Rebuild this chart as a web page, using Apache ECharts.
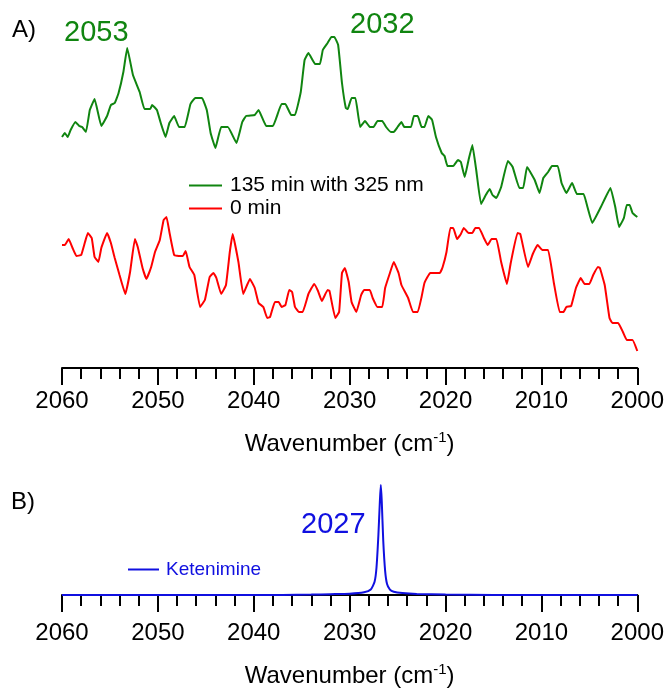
<!DOCTYPE html>
<html>
<head>
<meta charset="utf-8">
<script src="https://cdn.jsdelivr.net/npm/echarts@6/dist/echarts.min.js"></script>
<style>
  html, body { margin: 0; padding: 0; background: #fff; }
  #chart { width: 667px; height: 694px; }
</style>
</head>
<body>
<div id="chart"></div>
<script>
// A) 135 min with 325 nm (green), wavenumber / absorbance (arb.)
var greenWn = [2060.0, 2059.7, 2059.4, 2059.1, 2058.6, 2058.2, 2057.9, 2057.5, 2057.1, 2056.6,
  2055.9, 2055.3, 2054.9, 2054.5, 2054.1, 2053.6, 2053.2, 2052.6, 2051.9, 2051.4,
  2050.8, 2050.6, 2050.1, 2049.7, 2049.2, 2048.8, 2048.3, 2047.8, 2047.2, 2046.6,
  2046.1, 2045.4, 2044.9, 2044.5, 2044.0, 2043.4, 2042.7, 2041.8, 2041.2, 2040.8,
  2039.9, 2039.5, 2038.7, 2038.0, 2037.1, 2036.7, 2036.1, 2035.7, 2035.1, 2034.7,
  2034.3, 2033.6, 2033.1, 2032.8, 2032.3, 2031.9, 2031.6, 2031.2, 2030.8, 2030.4,
  2030.2, 2029.8, 2029.4, 2028.9, 2028.4, 2027.9, 2027.5, 2027.1, 2026.6, 2026.2,
  2025.7, 2025.4, 2025.0, 2024.6, 2024.3, 2023.6, 2023.3, 2022.9, 2022.5, 2022.2,
  2021.8, 2021.4, 2021.0, 2020.4, 2020.1, 2019.8, 2019.2, 2018.7, 2018.4, 2018.0,
  2017.6, 2017.2, 2016.8, 2016.3, 2015.8, 2015.4, 2015.1, 2014.7, 2014.2, 2013.5,
  2013.0, 2012.3, 2011.9, 2011.5, 2010.7, 2010.2, 2009.8, 2009.3, 2008.9, 2008.3,
  2007.9, 2007.4, 2006.8, 2006.3, 2005.6, 2005.2, 2004.7, 2003.8, 2002.8, 2002.3,
  2001.9, 2001.4, 2001.1, 2000.8, 2000.5, 2000.0];
var greenAbs = [0.231, 0.235, 0.231, 0.238, 0.246, 0.242, 0.241, 0.236, 0.258, 0.269,
  0.242, 0.252, 0.263, 0.265, 0.275, 0.296, 0.320, 0.293, 0.276, 0.259,
  0.259, 0.263, 0.258, 0.245, 0.231, 0.245, 0.252, 0.241, 0.241, 0.264,
  0.270, 0.270, 0.258, 0.235, 0.220, 0.241, 0.241, 0.225, 0.246, 0.252,
  0.253, 0.258, 0.242, 0.242, 0.264, 0.264, 0.253, 0.253, 0.276, 0.308,
  0.315, 0.304, 0.304, 0.318, 0.325, 0.331, 0.331, 0.323, 0.285, 0.260,
  0.259, 0.270, 0.270, 0.241, 0.247, 0.241, 0.241, 0.247, 0.247, 0.241,
  0.236, 0.236, 0.241, 0.246, 0.241, 0.241, 0.252, 0.252, 0.241, 0.241,
  0.252, 0.248, 0.231, 0.215, 0.212, 0.202, 0.202, 0.208, 0.206, 0.191,
  0.208, 0.223, 0.198, 0.164, 0.173, 0.179, 0.173, 0.170, 0.181, 0.207,
  0.201, 0.180, 0.180, 0.201, 0.188, 0.175, 0.190, 0.196, 0.202, 0.202,
  0.185, 0.175, 0.185, 0.174, 0.174, 0.161, 0.145, 0.161, 0.180, 0.161,
  0.141, 0.150, 0.163, 0.163, 0.155, 0.151];

// A) 0 min (red)
var redWn = [2060.0, 2059.7, 2059.3, 2058.9, 2058.5, 2058.0, 2057.6, 2057.3, 2056.9, 2056.6,
  2056.2, 2055.9, 2055.3, 2054.9, 2054.5, 2054.0, 2053.4, 2052.9, 2052.4, 2052.1,
  2051.6, 2051.2, 2050.7, 2050.3, 2049.8, 2049.4, 2049.1, 2048.8, 2048.3, 2047.7,
  2047.4, 2047.1, 2046.7, 2046.2, 2045.6, 2045.1, 2044.6, 2044.2, 2043.9, 2043.4,
  2042.9, 2042.5, 2042.2, 2041.6, 2041.1, 2040.4, 2039.9, 2039.5, 2039.0, 2038.6,
  2038.3, 2037.8, 2037.4, 2037.1, 2036.7, 2036.3, 2036.0, 2035.7, 2035.3, 2034.9,
  2034.3, 2033.7, 2033.3, 2032.9, 2032.3, 2032.1, 2031.5, 2031.1, 2030.8, 2030.5,
  2030.1, 2029.8, 2029.3, 2028.8, 2028.5, 2027.9, 2027.6, 2027.1, 2026.6, 2026.3,
  2025.8, 2025.4, 2024.9, 2024.6, 2023.9, 2023.4, 2022.9, 2022.5, 2022.2, 2021.6,
  2020.6, 2020.3, 2019.9, 2019.5, 2019.2, 2018.8, 2018.4, 2018.1, 2017.6, 2017.2,
  2016.9, 2016.5, 2016.0, 2015.6, 2015.2, 2014.7, 2014.2, 2013.6, 2013.2, 2012.5,
  2012.2, 2011.4, 2010.9, 2010.4, 2009.9, 2009.3, 2008.7, 2008.1, 2007.7, 2007.4,
  2006.9, 2006.4, 2005.9, 2005.5, 2005.0, 2004.6, 2004.1, 2003.9, 2003.4, 2002.9,
  2002.6, 2002.0, 2001.5, 2001.1, 2000.5, 2000.0];
var redAbs = [0.123, 0.123, 0.129, 0.120, 0.112, 0.113, 0.126, 0.135, 0.130, 0.111,
  0.106, 0.120, 0.135, 0.125, 0.110, 0.093, 0.074, 0.096, 0.129, 0.121,
  0.100, 0.089, 0.101, 0.116, 0.128, 0.148, 0.151, 0.136, 0.113, 0.112,
  0.112, 0.117, 0.101, 0.093, 0.061, 0.068, 0.091, 0.095, 0.090, 0.074,
  0.083, 0.116, 0.134, 0.106, 0.074, 0.089, 0.080, 0.065, 0.061, 0.050,
  0.051, 0.066, 0.066, 0.061, 0.063, 0.078, 0.076, 0.061, 0.056, 0.056,
  0.074, 0.084, 0.077, 0.067, 0.078, 0.077, 0.050, 0.056, 0.095, 0.100,
  0.086, 0.066, 0.056, 0.073, 0.078, 0.078, 0.070, 0.061, 0.061, 0.080,
  0.095, 0.106, 0.095, 0.083, 0.070, 0.056, 0.056, 0.071, 0.085, 0.095,
  0.095, 0.101, 0.116, 0.140, 0.140, 0.129, 0.134, 0.140, 0.135, 0.135,
  0.140, 0.140, 0.130, 0.123, 0.129, 0.129, 0.106, 0.084, 0.105, 0.135,
  0.134, 0.101, 0.114, 0.123, 0.118, 0.118, 0.085, 0.056, 0.056, 0.061,
  0.062, 0.080, 0.090, 0.084, 0.084, 0.093, 0.101, 0.100, 0.083, 0.050,
  0.045, 0.045, 0.036, 0.028, 0.028, 0.017];

// B) calculated ketenimine band (blue)
var blueWn = [2060, 2050, 2040, 2034, 2032, 2030, 2028.5, 2027.8, 2027.4, 2027.2, 2027.0,
  2026.85, 2026.75, 2026.65, 2026.5, 2026.3, 2026.1, 2025.8, 2025.4, 2024.5, 2023, 2020, 2010, 2000];
var blueAbs = [0, 0, 0, 0.004, 0.008, 0.012, 0.025, 0.05, 0.12, 0.25, 0.55,
  0.85, 1.0, 0.85, 0.5, 0.22, 0.1, 0.05, 0.03, 0.018, 0.01, 0.004, 0, 0];

var xTicks = [2060, 2050, 2040, 2030, 2020, 2010, 2000];

function pairs(xs, ys) {
  var out = [];
  for (var i = 0; i < xs.length; i++) out.push([xs[i], ys[i]]);
  return out;
}

var FONT = "'Liberation Sans', Arial, Helvetica, sans-serif";
var GREEN = '#108510';
var RED = '#ff0000';
var BLUE = '#1010e0';

function xAxisFor(idx) {
  return {
    gridIndex: idx,
    type: 'value',
    min: xTicks[xTicks.length - 1],
    max: xTicks[0],
    interval: 10,
    inverse: true,
    axisLine: { show: true, lineStyle: { color: '#000', width: 2 } },
    axisTick: { show: true, inside: false, length: 17, lineStyle: { color: '#000', width: 2 } },
    minorTick: { show: true, splitNumber: 5, length: 11, lineStyle: { color: '#000', width: 2 } },
    splitLine: { show: false },
    axisLabel: {
      margin: 21, color: '#000', fontSize: 24, fontFamily: FONT,
      formatter: function (v) { return String(v); }
    },
    name: '{a|Wavenumber (cm}{s|-1}{a|)}',
    nameLocation: 'middle',
    nameGap: 62,
    nameTextStyle: {
      rich: {
        a: { fontSize: 24, fontFamily: FONT, color: '#000' },
        s: { fontSize: 15, fontFamily: FONT, color: '#000', verticalAlign: 'top', padding: [0, 0, 14, 0] }
      }
    }
  };
}

var myChart = echarts.init(document.getElementById('chart'));
var option = {
  backgroundColor: '#fff',
  animation: false,
  grid: [
    { left: 62, right: 29, top: 30, height: 338 },
    { left: 62, right: 29, top: 485, height: 115 }
  ],
  xAxis: [xAxisFor(0), xAxisFor(1)],
  yAxis: [
    { gridIndex: 0, type: 'value', min: 0, max: 0.338, show: false },
    { gridIndex: 1, type: 'value', min: -0.045, max: 1.0, show: false }
  ],
  legend: [
    {
      orient: 'vertical', left: 189, top: 175, itemGap: 2, padding: 0,
      icon: 'rect', itemWidth: 33, itemHeight: 2,
      textStyle: { fontSize: 21, fontFamily: FONT, color: '#000', padding: [0, 0, 0, 3] },
      data: ['135 min with 325 nm', '0 min']
    },
    {
      left: 128, top: 560, padding: 0,
      icon: 'rect', itemWidth: 31, itemHeight: 2,
      textStyle: { fontSize: 19, fontFamily: FONT, color: BLUE, padding: [0, 0, 0, 2] },
      data: ['Ketenimine']
    }
  ],
  graphic: [
    { type: 'text', left: 12, top: 18, style: { text: 'A)', fontSize: 24, fontFamily: FONT, fill: '#000' } },
    { type: 'text', left: 64, top: 18, style: { text: '2053', fontSize: 29, fontFamily: FONT, fill: GREEN } },
    { type: 'text', left: 350, top: 10, style: { text: '2032', fontSize: 29, fontFamily: FONT, fill: GREEN } },
    { type: 'text', left: 11, top: 490, style: { text: 'B)', fontSize: 24, fontFamily: FONT, fill: '#000' } },
    { type: 'text', left: 301, top: 510, style: { text: '2027', fontSize: 29, fontFamily: FONT, fill: BLUE } }
  ],
  series: [
    {
      name: '135 min with 325 nm', type: 'line', xAxisIndex: 0, yAxisIndex: 0,
      data: pairs(greenWn, greenAbs), showSymbol: false, smooth: 0.1,
      lineStyle: { color: GREEN, width: 2 }, itemStyle: { color: GREEN }
    },
    {
      name: '0 min', type: 'line', xAxisIndex: 0, yAxisIndex: 0,
      data: pairs(redWn, redAbs), showSymbol: false, smooth: 0.1,
      lineStyle: { color: RED, width: 2 }, itemStyle: { color: RED }
    },
    {
      name: 'Ketenimine', type: 'line', xAxisIndex: 1, yAxisIndex: 1,
      data: pairs(blueWn, blueAbs), showSymbol: false, smooth: 0.2,
      lineStyle: { color: BLUE, width: 2 }, itemStyle: { color: BLUE }
    }
  ]
};
myChart.setOption(option);
</script>
</body>
</html>
